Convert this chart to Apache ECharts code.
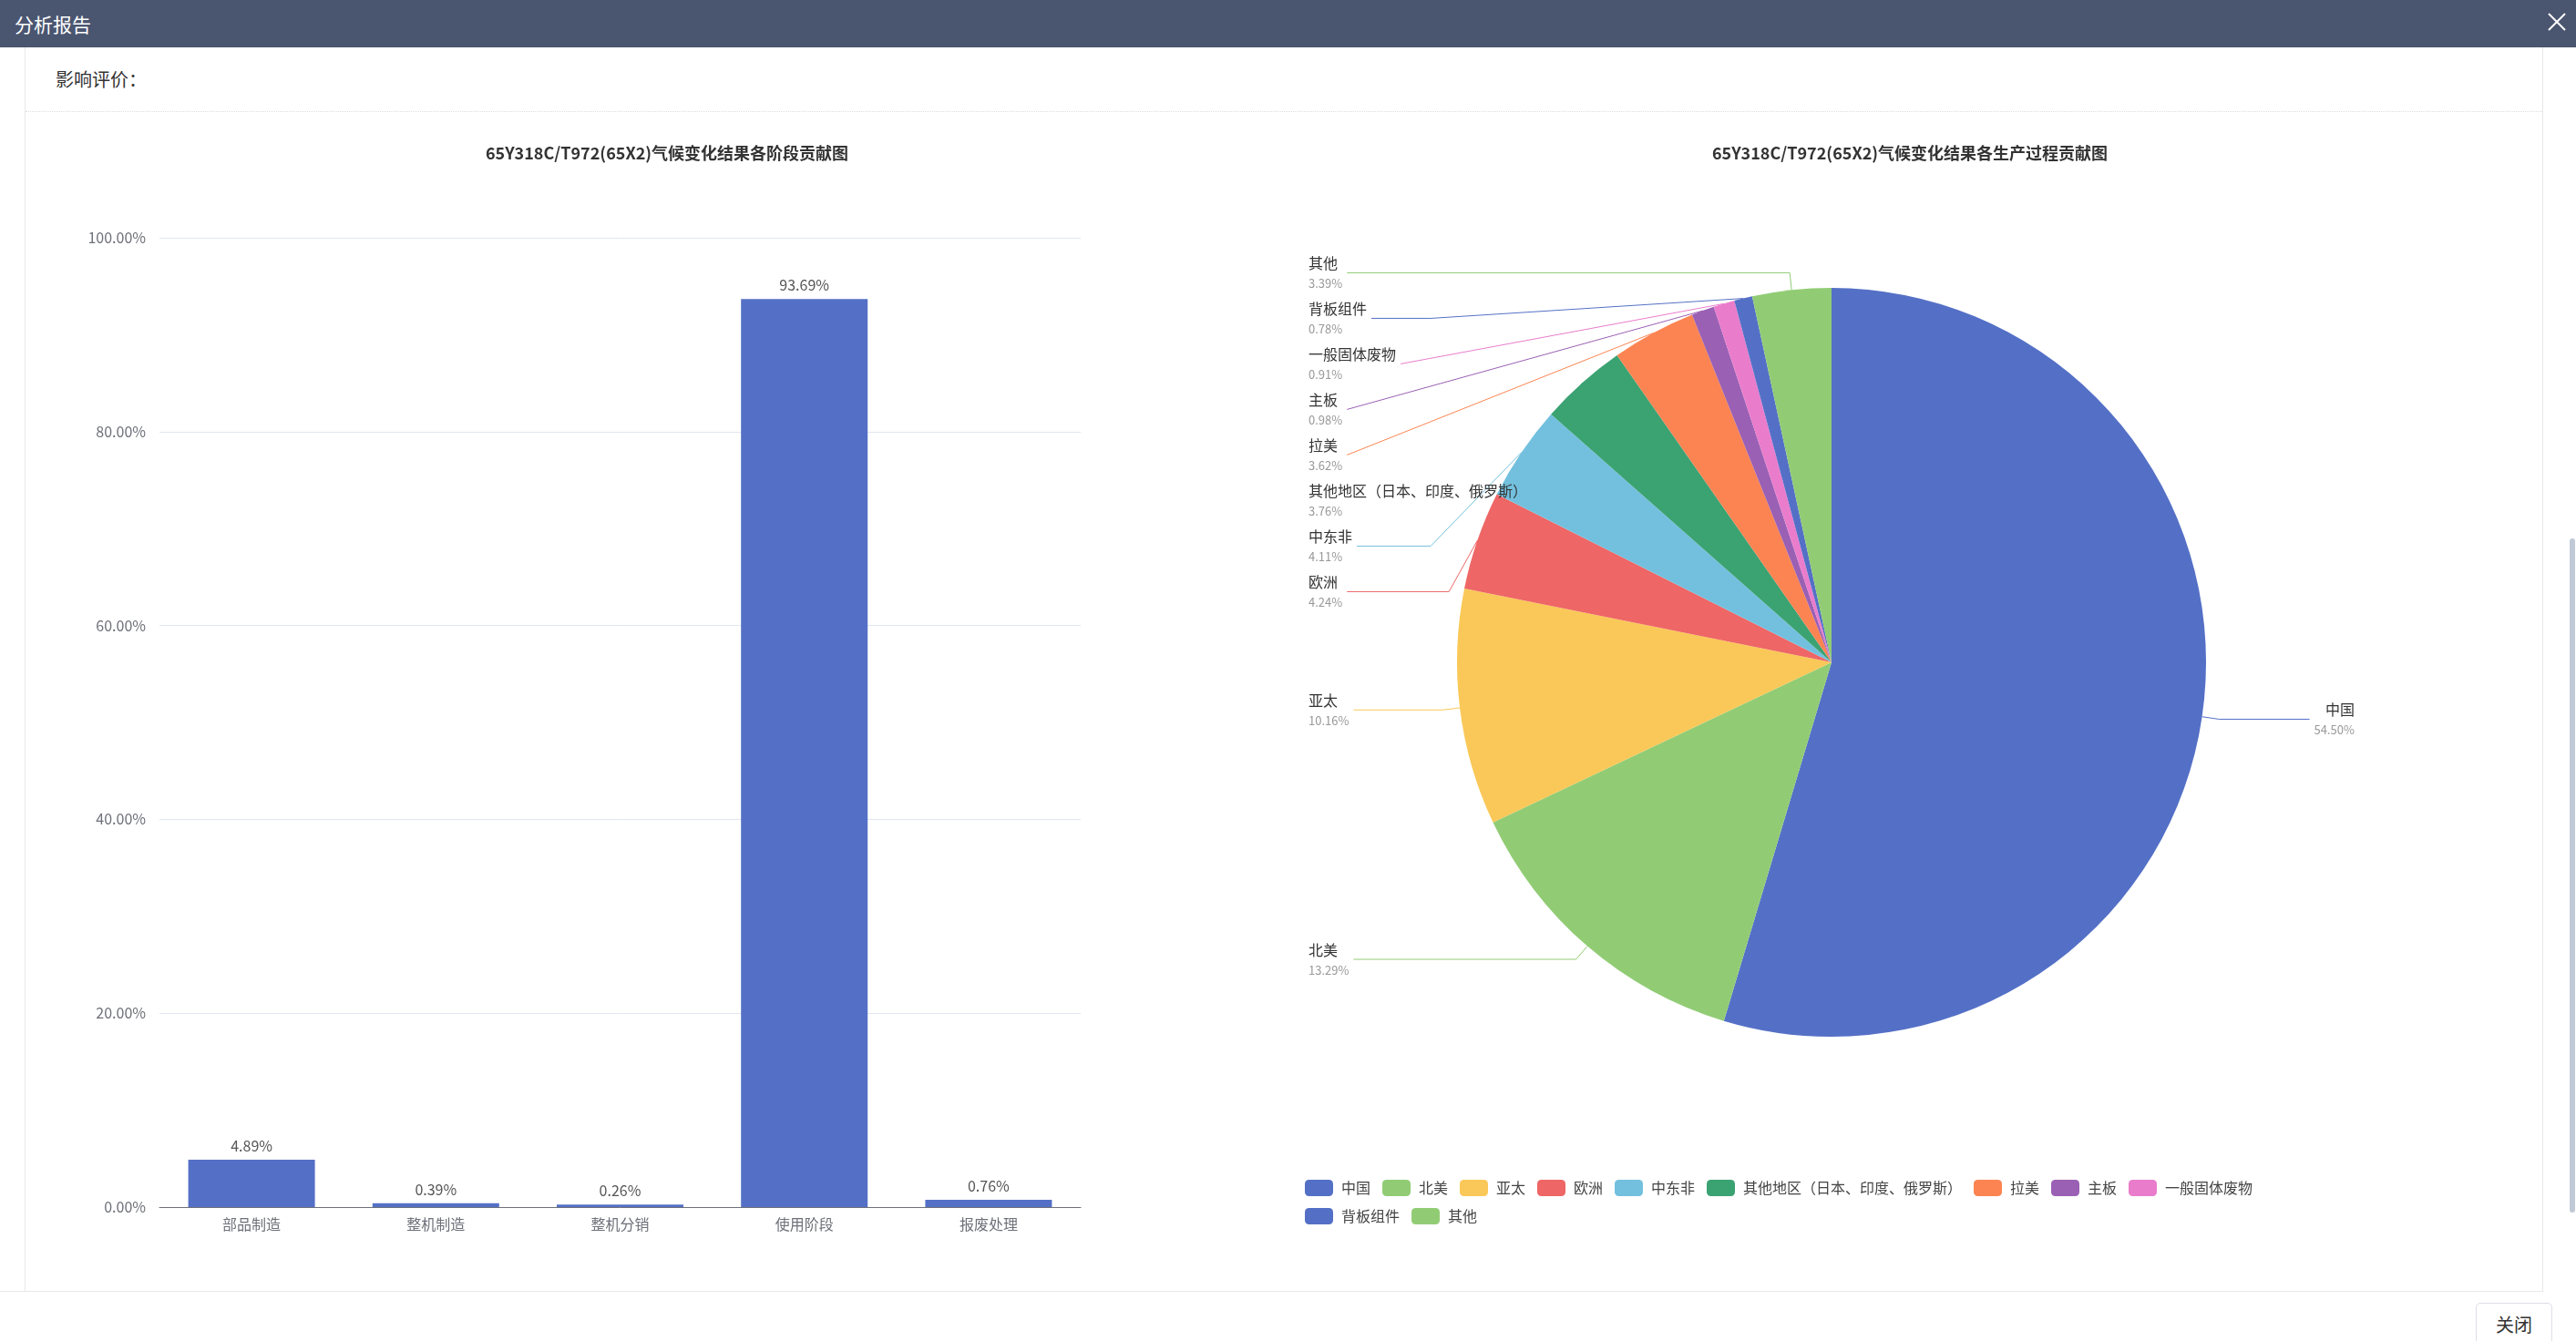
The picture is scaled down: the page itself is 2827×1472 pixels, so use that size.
<!DOCTYPE html>
<html><head><meta charset="utf-8">
<script src="https://cdn.jsdelivr.net/npm/echarts@6/dist/echarts.min.js"></script>
<style>
html,body{margin:0;padding:0;width:2827px;height:1472px;overflow:hidden;background:#fff;font-family:"Noto Sans CJK SC","Microsoft YaHei",sans-serif;}
#hdr{position:absolute;left:0;top:0;width:2827px;height:52px;background:#4a5570;}
#hdrTitle{position:absolute;left:16px;top:0;line-height:52px;font-size:21px;color:#fff;}
#closeX{position:absolute;left:2795px;top:13px;width:22px;height:22px;}
#lb{position:absolute;left:27px;top:52px;width:1px;height:1365px;background:#e8e8e8;}
#rb{position:absolute;left:2790px;top:52px;width:1px;height:1365px;background:#e8e8e8;}
#bl{position:absolute;left:0;top:1417px;width:2791px;height:1px;background:#e8e8e8;}
#sub{position:absolute;left:61px;top:70px;font-size:20px;color:#333;line-height:34px}
#dots{position:absolute;left:28px;top:122px;width:2762px;border-top:1px dotted #ddd;}
#leftChart{position:absolute;left:45px;top:130px;width:1364px;height:1280px;}
#rightChart{position:absolute;left:1409px;top:130px;width:1202px;height:1280px;}
#btn{position:absolute;left:2717px;top:1430px;width:84px;height:50px;border:1px solid #dcdfe6;border-radius:5px;font-size:20px;color:#333;text-align:center;line-height:46px;box-sizing:border-box;}
#scroll{position:absolute;left:2820px;top:591px;width:6px;height:740px;background:#c1c9d6;border-radius:3px;}
</style>
</head>
<body>
<div id="hdr"><div id="hdrTitle">分析报告</div>
<svg id="closeX" viewBox="0 0 22 22"><line x1="2" y1="2" x2="20" y2="20" stroke="#fff" stroke-width="2"/><line x1="20" y1="2" x2="2" y2="20" stroke="#fff" stroke-width="2"/></svg>
</div>
<div id="lb"></div><div id="rb"></div><div id="bl"></div>
<div id="sub">影响评价：</div>
<div id="dots"></div>
<div id="leftChart"></div>
<div id="rightChart"></div>
<div id="btn">关闭</div>
<div id="scroll"></div>
<script>
const titleCode = '65Y318C/T972(65X2)';
const barTitleText = '气候变化结果各阶段贡献图';
const pieTitleText = '气候变化结果各生产过程贡献图';
const stageNames = ['部品制造', '整机制造', '整机分销', '使用阶段', '报废处理'];
const stageValues = [4.89, 0.39, 0.26, 93.69, 0.76];
const regionNames = ['中国', '北美', '亚太', '欧洲', '中东非', '其他地区（日本、印度、俄罗斯）', '拉美', '主板', '一般固体废物', '背板组件', '其他'];
const regionValues = [54.50, 13.29, 10.16, 4.24, 4.11, 3.76, 3.62, 0.98, 0.91, 0.78, 3.39];
const palette = ['#5470c6', '#91cc75', '#fac858', '#ee6666', '#73c0de', '#3ba272', '#fc8452', '#9a60b4', '#ea7ccc'];

const FONT = '"Noto Sans CJK SC", sans-serif';
function makeTitle(txt) {
  return {
    text: '{a|' + titleCode + '}{b|' + txt + '}',
    left: 682, top: 24, textAlign: 'center',
    textStyle: {
      fontFamily: FONT,
      rich: {
        a: { fontSize: 18, fontWeight: 'bold', color: '#333', fontFamily: FONT },
        b: { fontSize: 18, color: '#333', fontFamily: FONT }
      }
    }
  };
}

const left = echarts.init(document.getElementById('leftChart'));
left.setOption({
  animation: false,
  textStyle: { fontFamily: FONT },
  title: makeTitle(barTitleText),
  grid: { left: 130, right: 223, top: 131, bottom: 85 },
  xAxis: {
    type: 'category', data: stageNames,
    axisLine: { lineStyle: { color: '#6E7079' } },
    axisTick: { length: 6, lineStyle: { color: '#6E7079' } },
    axisLabel: { fontSize: 16, color: '#6E7079', margin: 11 }
  },
  yAxis: {
    type: 'value', min: 0, max: 100, interval: 20,
    axisLine: { show: false }, axisTick: { show: false },
    axisLabel: { fontSize: 16, color: '#6E7079', margin: 15, formatter: v => v.toFixed(2) + '%' },
    splitLine: { lineStyle: { color: '#E0E6F1' } }
  },
  series: [{
    type: 'bar', data: stageValues, barWidth: 139,
    itemStyle: { color: '#5470c6' },
    label: { show: true, position: 'top', distance: 7, fontSize: 16, color: '#555', formatter: p => p.value.toFixed(2) + '%' }
  }]
});

const right = echarts.init(document.getElementById('rightChart'));
right.setOption({
  animation: false,
  color: palette,
  textStyle: { fontFamily: FONT },
  title: makeTitle(pieTitleText),
  legend: {
    left: 18, top: 1160, width: 1060,
    icon: 'roundRect', itemWidth: 31, itemHeight: 18, itemGap: 13,
    textStyle: { fontSize: 16, color: '#444', padding: [0, 0, 0, 4] },
    data: regionNames
  },
  series: [{
    type: 'pie', center: [601, 597], radius: 411, startAngle: 90,
    data: regionNames.map((n, i) => ({ name: n, value: regionValues[i] })),
    label: {
      alignTo: 'edge', edgeDistance: 27, minMargin: 13,
      formatter: p => '{n|' + p.name + '}\n{p|' + p.value.toFixed(2) + '%}',
      rich: {
        n: { fontSize: 16, color: '#333', lineHeight: 24 },
        p: { fontSize: 13, color: '#999', lineHeight: 21 }
      }
    },
    labelLine: { length: 19, length2: 0, maxSurfaceAngle: 80 }
  }]
});
</script>
</body></html>
